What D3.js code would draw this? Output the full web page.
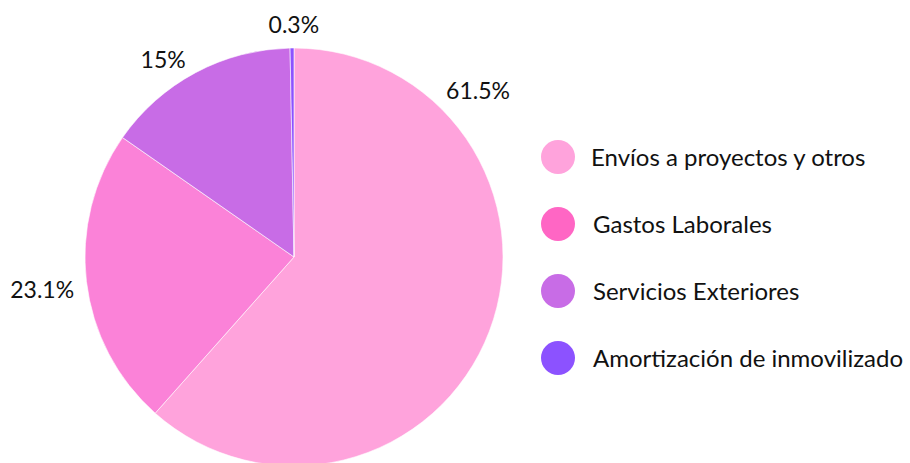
<!DOCTYPE html>
<html>
<head>
<meta charset="utf-8">
<script src="https://cdn.jsdelivr.net/npm/d3@7"></script>
<style>
  body { margin: 0; background: #fff; }
  text { font-family: Lato, "Open Sans", sans-serif; fill: #111; }
</style>
</head>
<body>
<svg width="910" height="463"></svg>
<script>
// categories and shares (%)
var categories = ["Envíos a proyectos y otros", "Gastos Laborales", "Servicios Exteriores", "Amortización de inmovilizado"];
var shares = [61.5, 23.1, 15, 0.3];
var shareLabels = ["61.5%", "23.1%", "15%", "0.3%"];
var sliceColors = ["#ffa3dc", "#fb82d8", "#c86ce6", "#8c52ff"];
var legendColors = ["#ffa3dc", "#ff66c4", "#c86ce6", "#8c52ff"];

var svg = d3.select("svg");
var cx = 294, cy = 257, r = 209;

var pie = d3.pie().sort(null).value(function(d) { return d; });
var arcs = pie(shares);
var arc = d3.arc().innerRadius(0).outerRadius(r);

var g = svg.append("g").attr("transform", "translate(" + cx + "," + cy + ")");

// slices
g.selectAll("path")
    .data(arcs)
    .enter()
    .append("path")
    .attr("d", arc)
    .attr("fill", function(d, i) { return sliceColors[i]; })
    .attr("stroke", "#fff")
    .attr("stroke-width", 0.6);

// labels outside the pie: mid angle nudged by a few degrees, own radius
var labelShift = [-62.9, -0.7, -5.4, 0.5];
var labelR = [248, 254, 237, 232];
function labelAngle(d, i) {
    return (d.startAngle + d.endAngle) / 2 + labelShift[i] * Math.PI / 180;
}
g.selectAll("text.lbl")
    .data(arcs)
    .enter()
    .append("text")
    .attr("class", "lbl")
    .attr("x", function(d, i) { return Math.sin(labelAngle(d, i)) * labelR[i]; })
    .attr("y", function(d, i) { return -Math.cos(labelAngle(d, i)) * labelR[i]; })
    .attr("text-anchor", "middle")
    .attr("dy", "0.36em")
    .style("font-size", "23px")
    .text(function(d, i) { return shareLabels[i]; });

// legend
var legend = svg.append("g").attr("transform", "translate(558,157)");
var item = legend.selectAll("g")
    .data(categories)
    .enter()
    .append("g")
    .attr("transform", function(d, i) { return "translate(0," + (i * 67) + ")"; });

item.append("circle")
    .attr("r", 17)
    .attr("fill", function(d, i) { return legendColors[i]; });

item.append("text")
    .attr("x", function(d, i) { return i == 0 ? 33 : 35; })
    .attr("dy", "0.36em")
    .style("font-size", "24px")
    .text(function(d) { return d; });
</script>
</body>
</html>
